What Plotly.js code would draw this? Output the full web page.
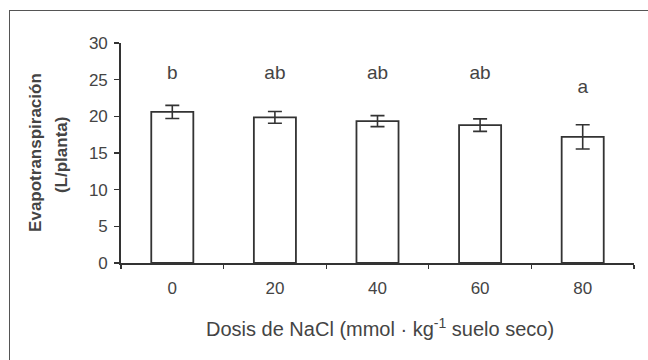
<!DOCTYPE html>
<html>
<head>
<meta charset="utf-8">
<script src="https://cdn.plot.ly/plotly-3.0.1.min.js"></script>
<style>
  html, body { margin:0; padding:0; overflow:hidden; background:#fff; }
  #wrap { position:relative; width:648px; height:360px; }
  #chart { width:648px; height:360px; }
  #frame { position:absolute; left:9px; top:10px; width:700px; height:400px;
           border:1.5px solid #555; pointer-events:none; }
</style>
</head>
<body>
<div id="wrap">
  <div id="chart"></div>
  <div id="frame"></div>
</div>
<script>
// Data
const doses = ["0", "20", "40", "60", "80"];
const evapotranspiration = [20.6, 19.85, 19.35, 18.8, 17.2];
const errorValues = [0.9, 0.8, 0.75, 0.85, 1.65];
const letters = ["b", "ab", "ab", "ab", "a"];
const letterY = [25.8, 25.7, 25.7, 25.7, 23.8];
const yTicks = [0, 5, 10, 15, 20, 25, 30];

const textColor = "#444";
const lineColor = "#333";
const fontFamily = "Liberation Sans, Arial, sans-serif";

const bars = {
  type: "bar",
  x: doses,
  y: evapotranspiration,
  marker: { color: "#ffffff", line: { color: lineColor, width: 1.8 } },
  error_y: { type: "data", array: errorValues, visible: true,
             color: lineColor, thickness: 1.6, width: 7 },
  hoverinfo: "none"
};

const letterTrace = {
  type: "scatter",
  mode: "text",
  x: doses,
  y: letterY,
  text: letters,
  textposition: "middle center",
  textfont: { family: fontFamily, size: 19, color: textColor },
  hoverinfo: "none"
};

const layout = {
  width: 648, height: 360,
  margin: { l: 121, r: 14, t: 43, b: 97 },
  paper_bgcolor: "#fff", plot_bgcolor: "#fff",
  showlegend: false,
  bargap: 0.59,
  font: { family: fontFamily, color: textColor, size: 17 },
  xaxis: {
    type: "category",
    showline: true, linecolor: lineColor, linewidth: 1.8,
    ticks: "outside", tickson: "boundaries", ticklen: 4, tickwidth: 1.4, tickcolor: lineColor,
    ticklabelstandoff: 9,
    tickfont: { size: 17, color: textColor },
    showgrid: false, zeroline: false,
    automargin: false
  },
  yaxis: {
    range: [0, 30],
    tickvals: yTicks,
    showline: true, linecolor: lineColor, linewidth: 1.8,
    ticks: "outside", ticklen: 5, tickwidth: 1.4, tickcolor: lineColor,
    ticklabelstandoff: 3,
    tickfont: { size: 17, color: textColor },
    showgrid: false, zeroline: false,
    automargin: false
  },
  annotations: [
    { text: "Evapotranspiración", xref: "paper", yref: "paper",
      x: -0.1657, y: 0.505, xanchor: "center", yanchor: "middle", textangle: -90,
      showarrow: false, font: { family: fontFamily, size: 17, color: textColor, weight: "bold" } },
    { text: "(L/planta)", xref: "paper", yref: "paper",
      x: -0.117, y: 0.495, xanchor: "center", yanchor: "middle", textangle: -90,
      showarrow: false, font: { family: fontFamily, size: 17, color: textColor, weight: "bold" } },
    { text: "Dosis de NaCl (mmol · kg<sup>-1</sup> suelo seco)", xref: "paper", yref: "paper",
      x: 0.504, y: -0.295, xanchor: "center", yanchor: "middle",
      showarrow: false, font: { family: fontFamily, size: 20, color: textColor } }
  ]
};

Plotly.newPlot("chart", [bars, letterTrace], layout, { displayModeBar: false, staticPlot: true });
</script>
</body>
</html>
